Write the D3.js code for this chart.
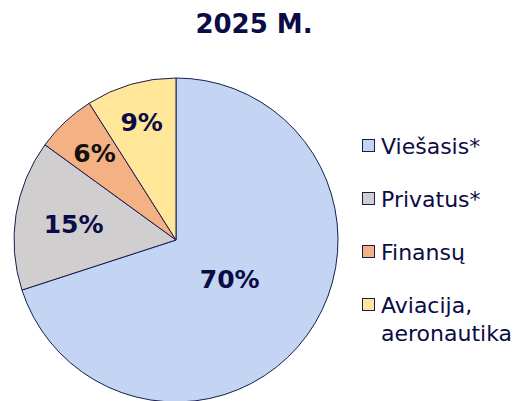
<!DOCTYPE html>
<html>
<head>
<meta charset="utf-8">
<script src="https://cdn.jsdelivr.net/npm/d3@7"></script>
<style>
  body { margin: 0; background: #fff; }
  svg { display: block; font-family: "DejaVu Sans", Verdana, sans-serif; }
</style>
</head>
<body>
<div id="chart"></div>
<script>
// chart data
let categories = ["Viešasis*", "Privatus*", "Finansų", "Aviacija, aeronautika"];
let values = [70, 15, 6, 9];
let colors = ["#c3d5f2", "#d0cece", "#f4b183", "#ffe699"];
let labelColors = ["#0b0b45", "#0b0b45", "#111111", "#0b0b45"];

var width = 518,
    height = 401,
    radius = 162;

var svg = d3.select("#chart").append("svg")
  .attr("width", width)
  .attr("height", height);

svg.append("text")
  .attr("x", 254)
  .attr("y", 33)
  .attr("text-anchor", "middle")
  .style("font-size", "26px")
  .style("font-weight", "bold")
  .style("fill", "#0b0b45")
  .text("2025 M.");

var pie = d3.pie().sort(null).value(function(d) { return d; });
var arcs = pie(values);

var arc = d3.arc().innerRadius(0).outerRadius(radius);

var g = svg.append("g").attr("transform", "translate(176,240)");

g.selectAll("path").data(arcs)
  .enter().append("path")
    .attr("d", arc)
    .style("fill", function(d, i) { return colors[i]; })
    .style("stroke", "#1a1a55")
    .style("stroke-width", 1);

// label radius per slice to follow the original placement
var labelR = [0.41, 0.64, 0.735, 0.76];
g.selectAll("text").data(arcs)
  .enter().append("text")
    .attr("transform", function(d, i) {
      var a = d3.arc().innerRadius(radius * labelR[i]).outerRadius(radius * labelR[i]);
      return "translate(" + a.centroid(d) + ")";
    })
    .attr("text-anchor", "middle")
    .attr("dy", "0.36em")
    .style("font-size", "25px")
    .style("font-weight", "bold")
    .style("fill", function(d, i) { return labelColors[i]; })
    .text(function(d) { return d.data + "%"; });

// legend
var legend = svg.append("g").attr("transform", "translate(362,139)");
var item = legend.selectAll("g").data(categories)
  .enter().append("g")
    .attr("transform", function(d, i) { return "translate(0," + (i * 53) + ")"; });

item.append("rect")
  .attr("x", 0.5)
  .attr("y", 0.5)
  .attr("width", 12)
  .attr("height", 12)
  .style("fill", function(d, i) { return colors[i]; })
  .style("stroke", "#1a1a55")
  .style("stroke-width", 1);

item.append("text")
  .attr("x", 19)
  .attr("y", 15)
  .style("font-size", "22px")
  .style("fill", "#0b0b45")
  .each(function(d) {
    var parts = d.split(" ");
    var t = d3.select(this);
    parts.forEach(function(p, j) {
      t.append("tspan").attr("x", 19).attr("dy", j === 0 ? 0 : 28).text(p);
    });
  });
</script>
</body>
</html>
